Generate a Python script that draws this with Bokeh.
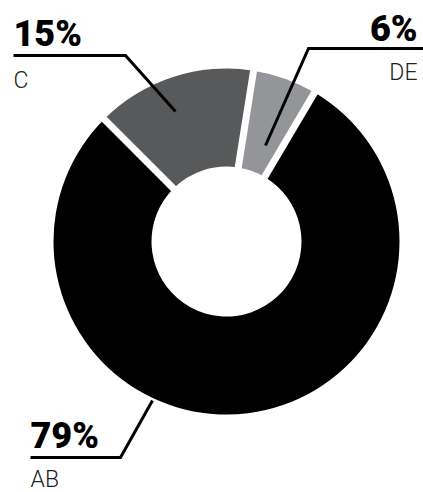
import numpy as np
from bokeh.plotting import figure
from bokeh.models import Range1d, ColumnDataSource
from bokeh.core.properties import value
from bokeh.embed import file_html
from bokeh.resources import INLINE

# ---- data (clockwise order starting at upper-left) ----
categories = ["C", "DE", "AB"]
shares = [15, 6, 79]
pct_labels = ["15%", "6%", "79%"]
colors = ["#58595b", "#939598", "#000000"]

# ---- layout (screen pixels of the 423x492 page) ----
W, H = 423, 492
CX, CY = 226, 241          # donut centre (screen)
R_OUT, R_IN = 173, 75
START_DEG = 135.0
GAP = 7

def Y(sy):
    return H - sy

p = figure(width=W, height=H, output_backend="svg", toolbar_location=None,
           x_range=Range1d(0, W), y_range=Range1d(0, H),
           x_axis_type=None, y_axis_type=None, min_border=0)
p.outline_line_color = None
p.grid.visible = False
p.background_fill_color = "white"
p.border_fill_color = "white"

vals = np.array(shares, dtype=float)
frac = vals / vals.sum()
cum = np.concatenate([[0.0], np.cumsum(frac)])
start_rad = np.deg2rad(START_DEG)
bounds = start_rad - cum * 2 * np.pi          # clockwise boundaries
wedge_start = bounds[1:]
wedge_end = bounds[:-1]

src = ColumnDataSource(dict(cat=categories, start=wedge_start, end=wedge_end, color=colors))
p.annular_wedge(x=CX, y=Y(CY), inner_radius=R_IN, outer_radius=R_OUT,
                start_angle="start", end_angle="end", fill_color="color",
                line_color=None, source=src)

# white gaps between slices
ga = bounds[:-1]
p.segment(x0=CX + (R_IN - 5) * np.cos(ga), y0=Y(CY) + (R_IN - 5) * np.sin(ga),
          x1=CX + (R_OUT + 5) * np.cos(ga), y1=Y(CY) + (R_OUT + 5) * np.sin(ga),
          line_color="white", line_width=GAP, line_cap="butt")

# leader lines (screen coords)
leaders = {
    "C":  [(13, 55), (125, 55), (175, 111)],
    "DE": [(423, 48), (308, 48), (265, 145)],
    "AB": [(30, 457), (120, 457), (152, 400)],
}
xs = [[pt[0] for pt in leaders[c]] for c in categories]
ys = [[Y(pt[1]) for pt in leaders[c]] for c in categories]
p.multi_line(xs=xs, ys=ys, line_color="black", line_width=3, line_join="miter")

# label positions: (x, pct baseline, name baseline, align)
label_pos = {
    "C":  (13, 45, 88, "left"),
    "DE": (417, 40, 80, "right"),
    "AB": (30, 447, 487, "left"),
}
PCT_SHIFT, NAME_SHIFT = 12, 8   # compensation for bokeh's baseline placement
for c, pl in zip(categories, pct_labels):
    x, b1, b2, al = label_pos[c]
    p.text(x=[x], y=[Y(b1 - PCT_SHIFT)], text=[pl], text_align=al, text_baseline="alphabetic",
           text_font=value("Roboto Black"), text_font_size="36px",
           text_color="black")
    p.text(x=[x], y=[Y(b2 - NAME_SHIFT)], text=[c], text_align=al, text_baseline="alphabetic",
           text_font=value("Roboto Light"), text_font_size="23px", text_color="#222222")

open("out.html", "w").write(file_html(p, INLINE))
